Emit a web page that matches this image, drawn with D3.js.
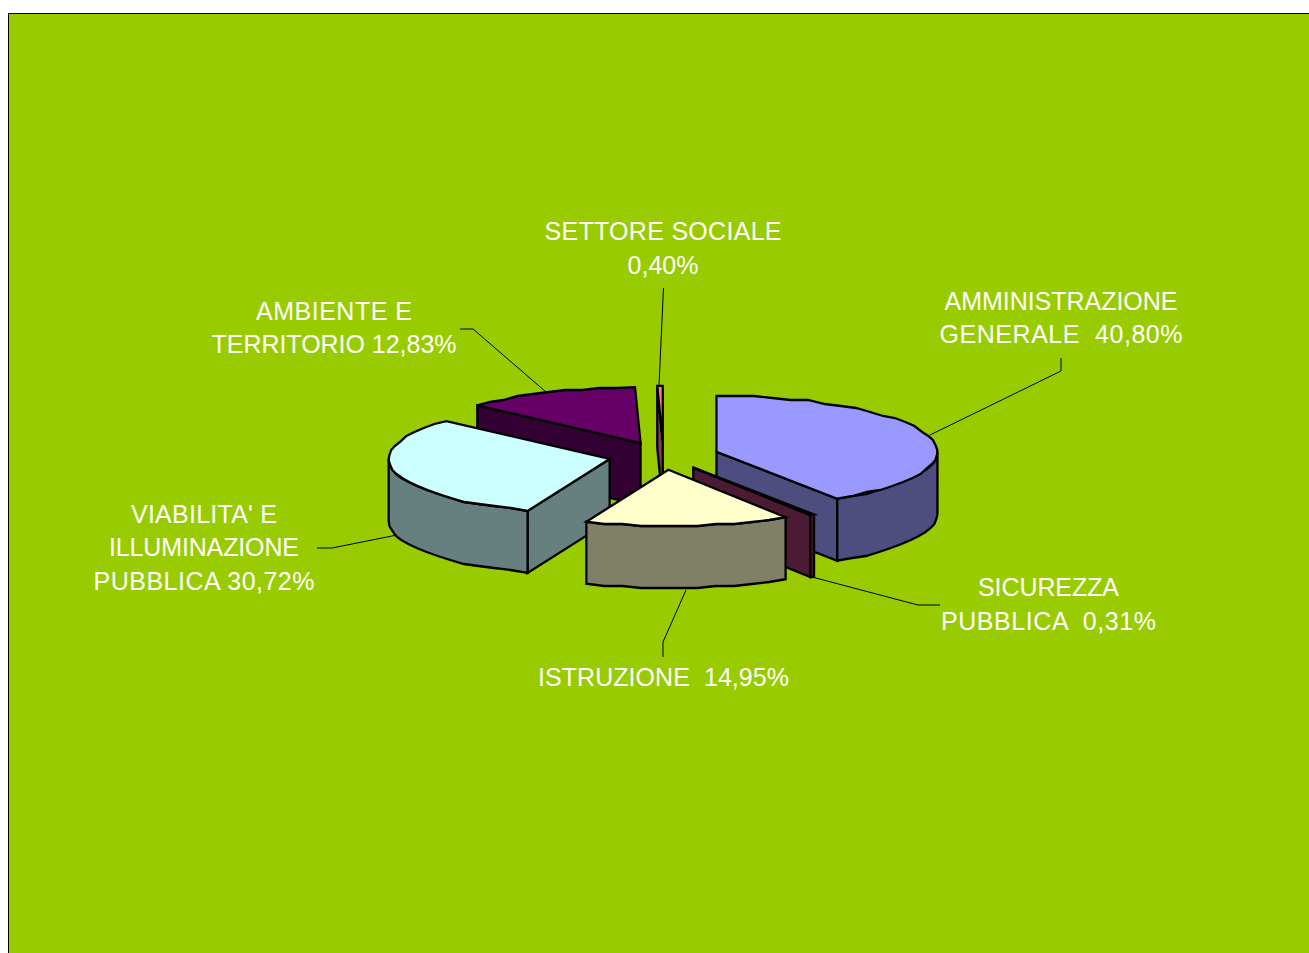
<!DOCTYPE html>
<html><head><meta charset="utf-8">
<script src="https://cdn.jsdelivr.net/npm/d3@7"></script>
<style>html,body{margin:0;padding:0;background:#fff;overflow:hidden}svg{display:block}</style>
</head><body><svg id="c" width="1309" height="953"></svg>
<script>
const categories = ["AMMINISTRAZIONE GENERALE","SICUREZZA PUBBLICA","ISTRUZIONE","VIABILITA' E ILLUMINAZIONE PUBBLICA","AMBIENTE E TERRITORIO","SETTORE SOCIALE"];
const values = [40.80,0.31,14.95,30.72,12.83,0.40];
const colors = ["#9999FF","#993366","#FFFFCC","#CCFFFF","#660066","#FF8080"];
const sideColors = ["#4D4D80","#4D1A33","#808066","#668080","#330033","#804040"];
const labelLines = [
 ["AMMINISTRAZIONE","GENERALE  40,80%"],
 ["SICUREZZA","PUBBLICA  0,31%"],
 ["ISTRUZIONE  14,95%"],
 ["VIABILITA' E","ILLUMINAZIONE","PUBBLICA 30,72%"],
 ["AMBIENTE E","TERRITORIO 12,83%"],
 ["SETTORE SOCIALE","0,40%"]
];
const labelPlace = [
 {x:1061,y:310,lh:32.5,w:[233,243],leader:[[930,435],[1061,371],[1061,358]]},
 {x:1048.5,y:596,lh:33.5,w:[141,215],leader:[[812,577],[918,605],[940,605]]},
 {x:663.5,y:686,lh:33.5,w:[251],leader:[[686,590],[663,642],[663,657]]},
 {x:204,y:522.5,lh:33.5,w:[146,190,221],leader:[[397,535],[332,548],[317,548]]},
 {x:334,y:320,lh:32.5,w:[156,245],leader:[[546,392],[473,329],[460,329]]},
 {x:663,y:240,lh:33.5,w:[237,71],leader:[[659,385],[663.5,288]]}
];
const drawOrder = [5,4,3,0,1,2];
const W=1309,H=953, cx=663.5, cy=455.8, rx=221, ry=56, depth=62, explode=0.25, q=2;

const svg=d3.select("#c");
svg.append("rect").attr("x",8.5).attr("y",13.5).attr("width",W+10).attr("height",H+10)
   .attr("fill","#99CC00").attr("stroke","#000").attr("stroke-width",1);

const arcs=d3.pie().sort(null).value(d=>d)(values);
const quant=v=>Math.round(v/q)*q;
const rimPt=(c,a,dz=0)=>[c[0]+rx*Math.sin(a), c[1]-ry*Math.cos(a)+dz];
const sample=(c,a0,a1,dz=0)=>{
  const n=Math.max(1,Math.ceil(Math.abs(a1-a0)/(Math.PI/36))), pts=[];
  for(let i=0;i<=n;i++){
    const p=rimPt(c,a0+(a1-a0)*i/n,dz);
    pts.push(i===0||i===n?p:[p[0],quant(p[1])]);
  }
  return pts;
};
const line=d3.line();
const gPie=svg.append("g").attr("stroke","#000").attr("stroke-width",2.3).attr("stroke-linejoin","miter");
drawOrder.forEach(i=>{
  const d=arcs[i], a0=d.startAngle, a1=Math.min(d.endAngle,2*Math.PI), mid=(a0+a1)/2;
  const c=[cx+explode*rx*Math.sin(mid), cy-explode*ry*Math.cos(mid)];
  const down=p=>[p[0],p[1]+depth];
  const g=gPie.append("g");
  if(Math.sin(a0)<-1e-6){ const p=rimPt(c,a0);
    g.append("path").attr("d",line([c,p,down(p),down(c)])+"Z").attr("fill",sideColors[i]); }
  if(Math.sin(a1)>1e-6){ const p=rimPt(c,a1);
    g.append("path").attr("d",line([c,p,down(p),down(c)])+"Z").attr("fill",sideColors[i]); }
  const r0=Math.max(a0,Math.PI/2), r1=Math.min(a1,1.5*Math.PI);
  if(r1>r0){
    const top=sample(c,r0,r1), bot=sample(c,r1,r0,depth);
    g.append("path").attr("d",line(top.concat(bot))+"Z").attr("fill",sideColors[i]);
  }
  g.append("path").attr("d",line([c].concat(sample(c,a0,a1)))+"Z").attr("fill",colors[i]);
});

const gLab=svg.append("g");
categories.forEach((name,i)=>{
  const p=labelPlace[i];
  gLab.append("path").attr("d",line(p.leader)).attr("fill","none").attr("stroke","#000").attr("stroke-width",1);
  labelLines[i].forEach((s,k)=>{
    gLab.append("text").attr("fill","#fff").attr("font-family","'Liberation Sans',Arial,sans-serif")
      .attr("font-size",25).attr("text-anchor","middle").style("white-space","pre")
      .attr("x",p.x).attr("y",p.y+k*p.lh)
      .attr("textLength",p.w[k]).attr("lengthAdjust","spacing").text(s);
  });
});
</script></body></html>
